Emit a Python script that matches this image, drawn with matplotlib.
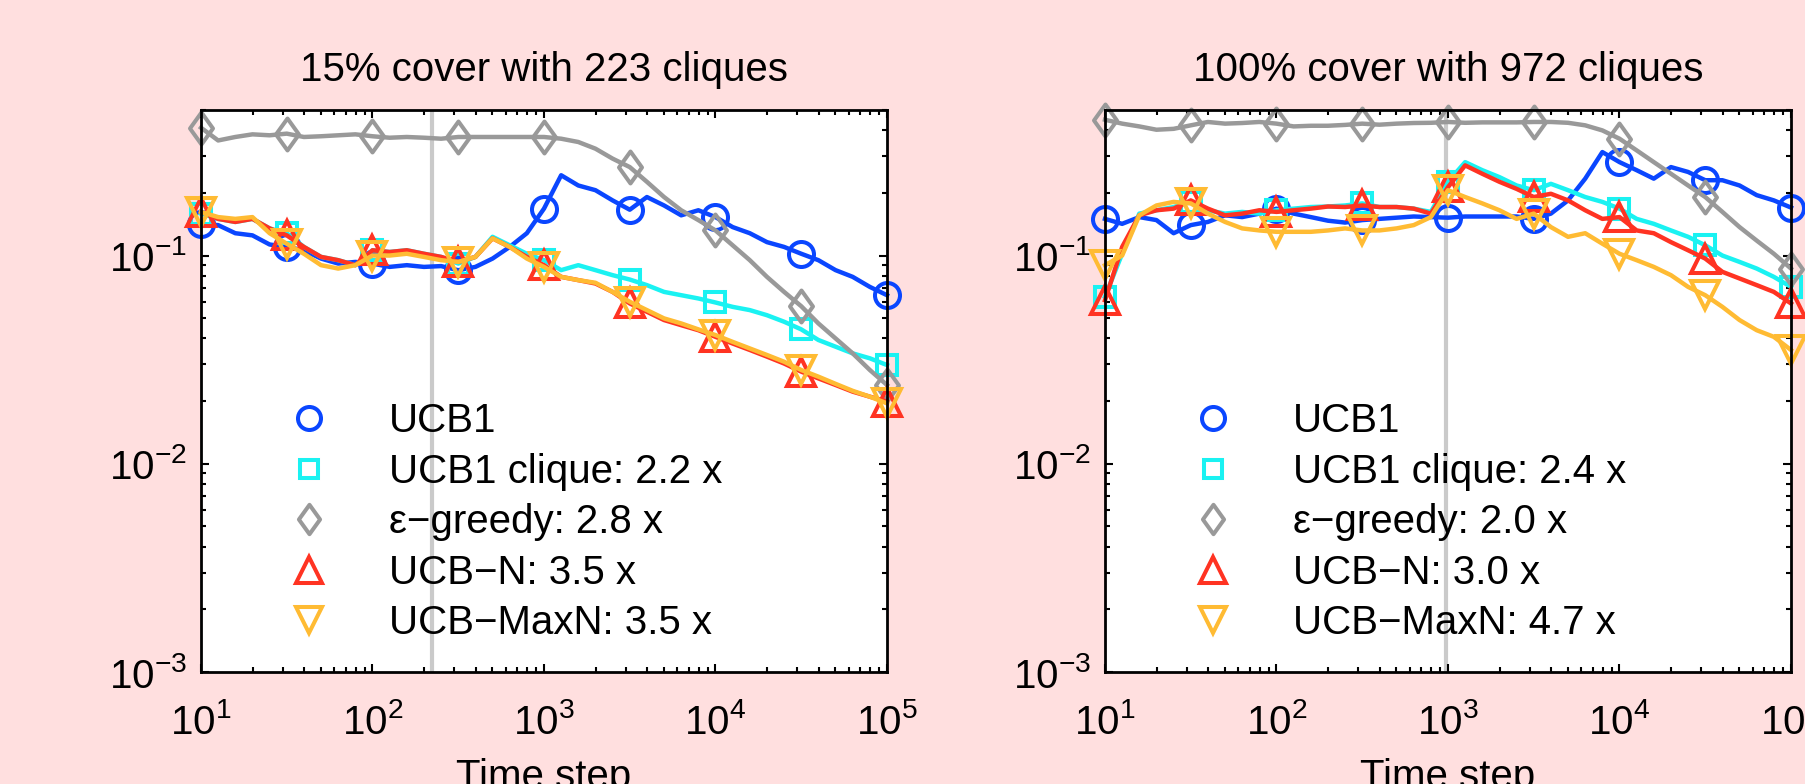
import numpy as np
import matplotlib
matplotlib.use('Agg')
import matplotlib.pyplot as plt
from matplotlib.lines import Line2D
from matplotlib.path import Path
from matplotlib.ticker import LogLocator, LogFormatterMathtext, NullFormatter

plt.rcParams['font.family'] = ['Liberation Sans Narrow', 'Liberation Sans', 'DejaVu Sans']
plt.rcParams['mathtext.fontset'] = 'custom'
plt.rcParams['mathtext.rm'] = 'Liberation Sans Narrow'
plt.rcParams['mathtext.it'] = 'Liberation Sans Narrow'
plt.rcParams['mathtext.bf'] = 'Liberation Sans Narrow'
plt.rcParams['mathtext.default'] = 'regular'

# ---------------- data ----------------
time_steps = np.logspace(1, 5, 41)   # time grid, 0.1 decade steps

titles = ['15% cover with 223 cliques', '100% cover with 972 cliques']
clique_counts = [223, 972]

labels_left = ['UCB1', 'UCB1 clique: 2.2 x', 'ε−greedy: 2.8 x', 'UCB−N: 3.5 x', 'UCB−MaxN: 3.5 x']
labels_right = ['UCB1', 'UCB1 clique: 2.4 x', 'ε−greedy: 2.0 x', 'UCB−N: 3.0 x', 'UCB−MaxN: 4.7 x']

ucb1_left = [0.142, 0.140, 0.128, 0.125, 0.113, 0.110, 0.106, 0.0967, 0.0915, 0.0932,
             0.0915, 0.0882, 0.0899, 0.0882, 0.0890, 0.0850, 0.0882, 0.0967, 0.110, 0.128,
             0.168, 0.243, 0.217, 0.206, 0.184, 0.166, 0.191, 0.174, 0.156, 0.165,
             0.153, 0.137, 0.128, 0.116, 0.110, 0.102, 0.0950, 0.0851, 0.0790, 0.0707, 0.0645]
clique_left = [0.159, 0.150, 0.145, 0.150, 0.135, 0.128, 0.110, 0.0985, 0.0950, 0.0899,
               0.106, 0.104, 0.106, 0.102, 0.0985, 0.0915, 0.0985, 0.123, 0.112, 0.102,
               0.0950, 0.0851, 0.0899, 0.0851, 0.0805, 0.0767, 0.0721, 0.0669, 0.0645, 0.0622,
               0.0595, 0.0567, 0.0547, 0.0517, 0.0481, 0.0442, 0.0393, 0.0365, 0.0339, 0.0321, 0.0298]
greedy_left = [0.411, 0.357, 0.371, 0.382, 0.378, 0.385, 0.371, 0.374, 0.378, 0.382,
               0.374, 0.368, 0.371, 0.368, 0.364, 0.371, 0.371, 0.371, 0.371, 0.371,
               0.371, 0.364, 0.351, 0.326, 0.292, 0.266, 0.226, 0.191, 0.165, 0.148,
               0.132, 0.112, 0.0950, 0.0790, 0.0669, 0.0571, 0.0472, 0.0400, 0.0339, 0.0282, 0.0239]
ucbn_left = [0.162, 0.150, 0.145, 0.150, 0.135, 0.125, 0.110, 0.0985, 0.0950, 0.0899,
             0.106, 0.104, 0.106, 0.102, 0.0985, 0.0932, 0.0985, 0.121, 0.110, 0.0985,
             0.0899, 0.0790, 0.0762, 0.0734, 0.0669, 0.0589, 0.0537, 0.0490, 0.0463, 0.0438,
             0.0407, 0.0378, 0.0352, 0.0327, 0.0303, 0.0277, 0.0257, 0.0239, 0.0222, 0.0210, 0.0199]
maxn_left = [0.162, 0.153, 0.150, 0.153, 0.128, 0.114, 0.102, 0.0899, 0.0866, 0.0899,
             0.100, 0.100, 0.102, 0.0985, 0.0950, 0.0932, 0.0985, 0.121, 0.110, 0.0967,
             0.0882, 0.0790, 0.0762, 0.0740, 0.0669, 0.0600, 0.0547, 0.0499, 0.0472, 0.0442,
             0.0415, 0.0385, 0.0358, 0.0333, 0.0309, 0.0282, 0.0262, 0.0242, 0.0224, 0.0210, 0.0195]

ucb1_right = [0.150, 0.142, 0.153, 0.148, 0.128, 0.140, 0.145, 0.156, 0.153, 0.159,
              0.168, 0.159, 0.153, 0.147, 0.144, 0.148, 0.150, 0.152, 0.154, 0.153,
              0.152, 0.154, 0.154, 0.154, 0.154, 0.150, 0.159, 0.184, 0.234, 0.314,
              0.281, 0.257, 0.234, 0.266, 0.252, 0.230, 0.230, 0.217, 0.195, 0.184, 0.170]
clique_right = [0.0634, 0.102, 0.159, 0.165, 0.171, 0.181, 0.165, 0.159, 0.162, 0.159,
                0.165, 0.168, 0.171, 0.172, 0.174, 0.178, 0.171, 0.171, 0.168, 0.162,
                0.226, 0.281, 0.257, 0.238, 0.217, 0.206, 0.221, 0.206, 0.191, 0.181,
                0.168, 0.150, 0.142, 0.132, 0.123, 0.112, 0.100, 0.0932, 0.0866, 0.0790, 0.0707]
greedy_right = [0.449, 0.430, 0.417, 0.402, 0.406, 0.422, 0.438, 0.430, 0.433, 0.438,
                0.430, 0.417, 0.420, 0.420, 0.424, 0.430, 0.425, 0.430, 0.433, 0.434,
                0.438, 0.434, 0.436, 0.436, 0.436, 0.438, 0.438, 0.434, 0.422, 0.399,
                0.364, 0.320, 0.281, 0.247, 0.217, 0.191, 0.162, 0.137, 0.118, 0.102, 0.0866]
ucbn_right = [0.0610, 0.110, 0.156, 0.165, 0.168, 0.184, 0.168, 0.156, 0.159, 0.165,
              0.162, 0.165, 0.168, 0.172, 0.171, 0.174, 0.171, 0.171, 0.168, 0.159,
              0.213, 0.271, 0.247, 0.226, 0.209, 0.191, 0.198, 0.184, 0.165, 0.150,
              0.153, 0.132, 0.128, 0.116, 0.106, 0.0967, 0.0835, 0.0776, 0.0721, 0.0669, 0.0589]
maxn_right = [0.0899, 0.100, 0.156, 0.174, 0.181, 0.178, 0.159, 0.145, 0.135, 0.132,
              0.130, 0.130, 0.130, 0.132, 0.135, 0.132, 0.132, 0.135, 0.140, 0.153,
              0.206, 0.191, 0.178, 0.165, 0.150, 0.159, 0.137, 0.123, 0.128, 0.114,
              0.102, 0.0950, 0.0882, 0.0805, 0.0707, 0.0645, 0.0567, 0.0490, 0.0438, 0.0407, 0.0352]

# ---------------- style ----------------
BG = '#ffdfdf'
colors = ['#0a46ff', '#1af2f2', '#999999', '#ff3322', '#ffbb33']
diamond = Path([(0, 1), (0.72, 0), (0, -1), (-0.72, 0), (0, 1)],
               [Path.MOVETO, Path.LINETO, Path.LINETO, Path.LINETO, Path.CLOSEPOLY])
markers = ['o', 's', diamond, '^', 'v']
msizes = [18, 14.5, 23, 20.5, 20.5]
FS = 29

fig = plt.figure(figsize=(18.06, 7.84), dpi=100, facecolor=BG)
axL = fig.add_axes([201 / 1806, 112 / 784, 686 / 1806, 562 / 784])
axR = fig.add_axes([1105 / 1806, 112 / 784, 686 / 1806, 562 / 784])

panels = [
    (axL, [ucb1_left, clique_left, greedy_left, ucbn_left, maxn_left], labels_left),
    (axR, [ucb1_right, clique_right, greedy_right, ucbn_right, maxn_right], labels_right),
]

for i, (ax, series, labels) in enumerate(panels):
    ax.set_facecolor('white')
    ax.axvline(clique_counts[i], color='#cacaca', lw=3.0, zorder=1)
    for s, c, m, ms in zip(series, colors, markers, msizes):
        ax.plot(time_steps, s, color=c, lw=3.2, marker=m, markersize=ms,
                markerfacecolor='none', markeredgecolor=c, markeredgewidth=2.9,
                markevery=5, zorder=3, clip_on=False)
    ax.set_xscale('log')
    ax.set_yscale('log')
    ax.set_xlim(10, 1e5)
    ax.set_ylim(1e-3, 0.5)
    ax.xaxis.set_major_locator(LogLocator(base=10, numticks=10))
    ax.xaxis.set_minor_locator(LogLocator(base=10, subs=np.arange(2, 10), numticks=20))
    ax.yaxis.set_major_locator(LogLocator(base=10, numticks=10))
    ax.yaxis.set_minor_locator(LogLocator(base=10, subs=np.arange(2, 10), numticks=20))
    ax.xaxis.set_major_formatter(LogFormatterMathtext())
    ax.yaxis.set_major_formatter(LogFormatterMathtext())
    ax.xaxis.set_minor_formatter(NullFormatter())
    ax.yaxis.set_minor_formatter(NullFormatter())
    ax.tick_params(which='both', direction='in', top=True, right=True, width=1.5,
                   labelsize=FS, colors='black')
    ax.tick_params(axis='x', which='major', length=6, pad=22)
    ax.tick_params(axis='y', which='major', length=6, pad=10)
    ax.tick_params(which='minor', length=3.5)
    for sp in ax.spines.values():
        sp.set_linewidth(2.0)
        sp.set_zorder(5)
    ax.set_title(titles[i], fontsize=FS, pad=21)
    ax.set_xlabel('Time step', fontsize=FS, labelpad=12)

    handles = [Line2D([], [], linestyle='none', marker=m, markersize=ms * 0.92,
                      markerfacecolor='none', markeredgecolor=c, markeredgewidth=2.9)
               for c, m, ms in zip(colors, markers, msizes)]
    ax.legend(handles, labels, loc='upper left', bbox_to_anchor=(0.1047, 0.5085),
              frameon=False, fontsize=FS, handlelength=1.0, handletextpad=1.48,
              labelspacing=0.31, borderaxespad=0.0)

fig.savefig('out.png', dpi=100, facecolor=BG)
